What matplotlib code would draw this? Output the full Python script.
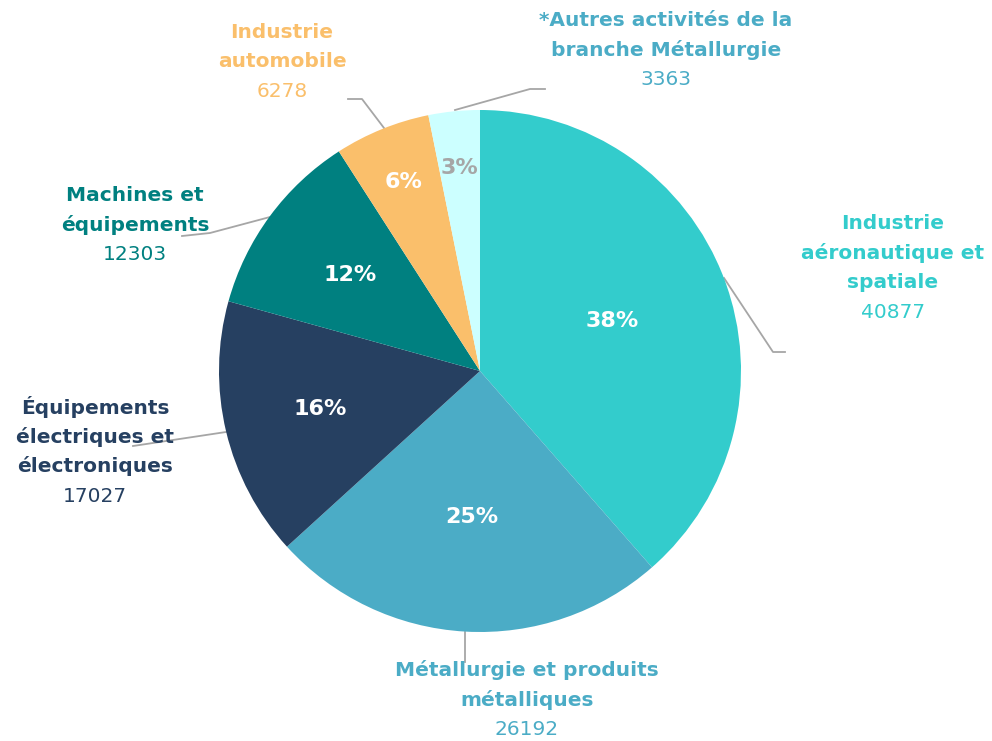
import matplotlib.pyplot as plt
import numpy as np

# Données
categories = ["Industrie\naéronautique et\nspatiale",
              "Métallurgie et produits\nmétalliques",
              "Équipements\nélectriques et\nélectroniques",
              "Machines et\néquipements",
              "Industrie\nautomobile",
              "*Autres activités de la\nbranche Métallurgie"]
valeurs = [40877, 26192, 17027, 12303, 6278, 3363]
pourcentages = ["38%", "25%", "16%", "12%", "6%", "3%"]
couleurs = ["#33CCCC", "#4BACC6", "#264061", "#008080", "#FABF6B", "#CCFFFF"]
couleurs_texte = ["#33CCCC", "#4BACC6", "#264061", "#008080", "#FABF6B", "#4BACC6"]
couleurs_pct = ["white", "white", "white", "white", "white", "#A6A6A6"]

H = 741
cx, cy, R = 480, H - 371, 261

# position des libellés (pixels, centre du bloc) et distance des %
pos_lib = [(893, 268), (527, 700), (95, 452), (135, 225), (282, 62), (666, 50)]
dist_pct = [0.54, 0.56, 0.63, 0.62, 0.78, 0.78]
# lignes de rappel
rappels = [[(724, 278), (773, 352), (785, 352)],
           [(465, 632), (465, 662)],
           [(226, 432), (133, 446)],
           [(270, 217), (210, 233), (182, 236)],
           [(384, 128), (362, 99), (348, 99)],
           [(455, 110), (530, 89), (545, 89)]]

plt.rcParams['font.family'] = ['DejaVu Sans']

fig = plt.figure(figsize=(9.92, 7.41), dpi=100)
ax = fig.add_axes([0, 0, 1, 1])
wedges, _ = ax.pie(valeurs, colors=couleurs, startangle=90, counterclock=False,
                   center=(cx, cy), radius=R, wedgeprops=dict(linewidth=0))
ax.set_xlim(0, 992)
ax.set_ylim(0, H)
ax.set_aspect('equal')
ax.axis('off')

for i, w in enumerate(wedges):
    a = np.deg2rad((w.theta1 + w.theta2) / 2)
    r = R * dist_pct[i]
    ax.text(cx + r * np.cos(a), cy + r * np.sin(a), pourcentages[i],
            ha='center', va='center', fontsize=16, fontweight='bold', color=couleurs_pct[i])

for i, lab in enumerate(categories):
    x, y = pos_lib[i]
    nl = lab.count("\n") + 1
    top = y - (nl + 1) * 29.5 / 2
    for j, ligne in enumerate(lab.split("\n")):
        ax.text(x, H - (top + 14.5 + j * 29.5), ligne, ha='center', va='center',
                fontsize=14.5, fontweight='bold', color=couleurs_texte[i])
    ax.text(x, H - (top + 14.5 + nl * 29.5), f"{valeurs[i]}", ha='center', va='center',
            fontsize=14.5, fontweight='normal', color=couleurs_texte[i])

for pts in rappels:
    xs = [p[0] for p in pts]
    ys = [H - p[1] for p in pts]
    ax.plot(xs, ys, color="#A6A6A6", linewidth=1.3, zorder=0.5)

fig.savefig("out.png", dpi=100)
